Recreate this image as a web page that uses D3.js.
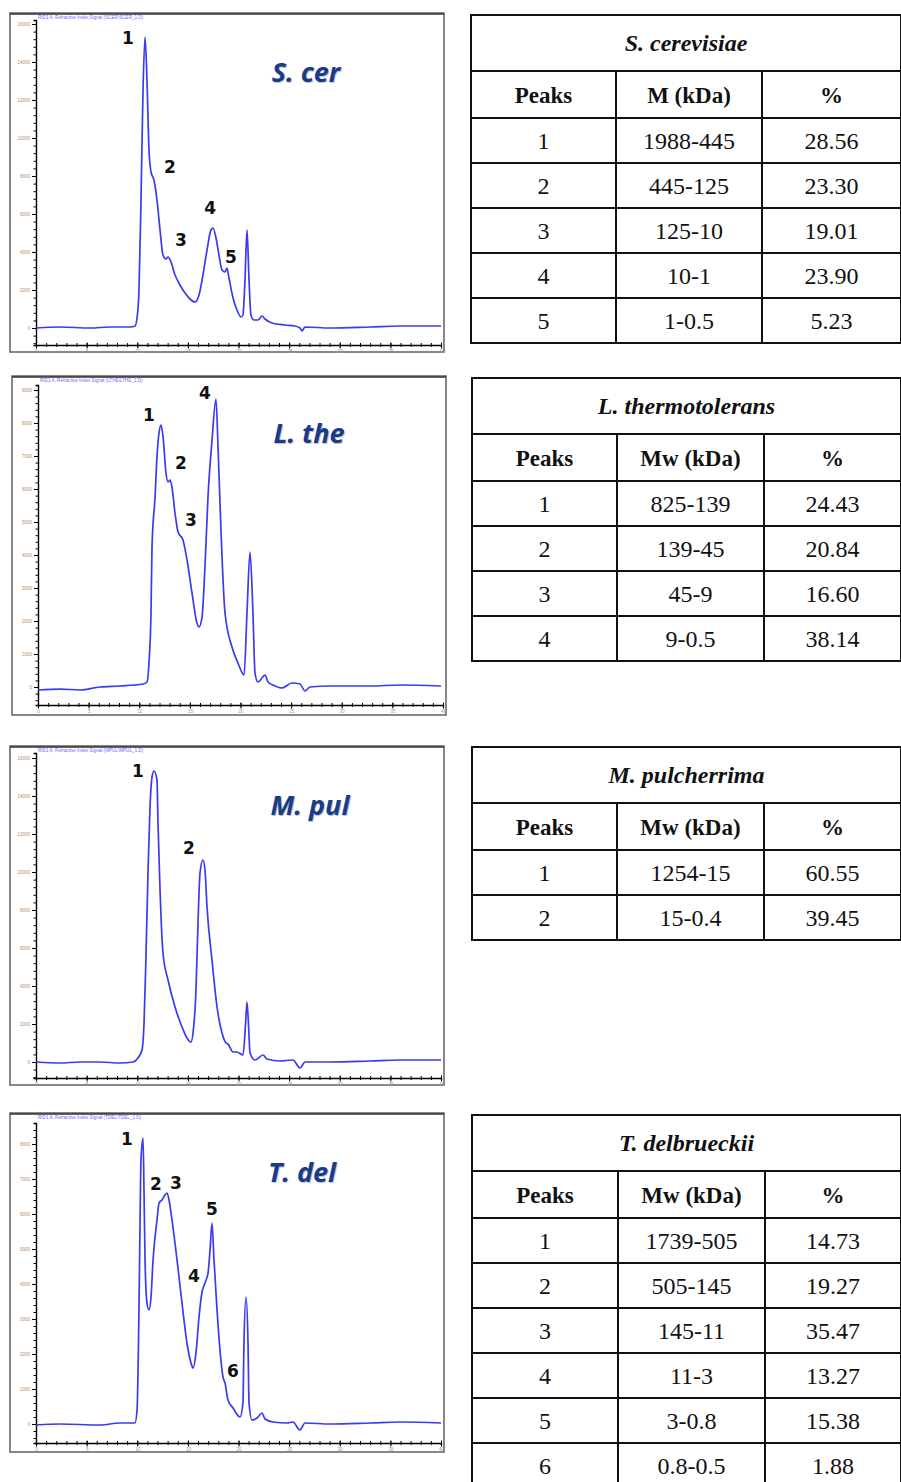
<!DOCTYPE html>
<meta charset="utf-8">
<script src="https://d3js.org/d3.v7.min.js"></script>
<style>
  body { margin: 0; background: #fff; }
  svg { display: block; }
  .tbl text { font-family: "Liberation Serif", "Times New Roman", "DejaVu Serif", serif; }
</style>
<div id="my_dataviz"></div>
<script>

// ---- chromatograms: retention time (min) and RI signal ----
var scerTime = [0, 2.37, 5.33, 7.31, 9.28, 9.78, 9.98, 10.17, 10.37, 10.57, 10.77, 10.96, 11.16, 11.36, 11.65, 11.95, 12.25, 12.54, 12.84, 13.04, 13.33, 13.73, 14.22, 14.72, 15.21, 15.70, 16.10, 16.49, 16.89, 17.28, 17.48, 17.78, 18.07, 18.37, 18.67, 18.86, 19.06, 19.46, 19.85, 20.25, 20.44, 20.64, 20.84, 21.04, 21.23, 21.53, 21.93, 22.32, 22.62, 23.31, 24.59, 25.58, 26.07, 26.27, 26.57, 29.04, 32.99, 35.95, 40];
var scerSignal = [0, 53, 0, 53, 53, 105, 526, 2000, 6737, 12526, 15316, 13053, 9368, 8211, 7789, 6737, 5158, 3842, 3632, 3737, 3474, 2789, 2263, 1842, 1526, 1368, 1737, 2789, 4105, 5158, 5263, 4737, 3842, 3053, 2947, 3158, 2632, 1579, 947, 579, 684, 2526, 5158, 2526, 684, 421, 421, 632, 474, 263, 158, 105, 0, -158, 53, 0, 53, 105, 105];
var scerPeakNames = ["1", "2", "3", "4", "5"];
var scerPeakTime = [9.09, 13.23, 14.32, 17.19, 19.26];
var scerPeakSignal = [15263, 8474, 4632, 6316, 3737];

var ltheTime = [0, 2.17, 4.15, 6.12, 8.10, 10.37, 10.77, 10.96, 11.16, 11.26, 11.56, 11.75, 11.95, 12.15, 12.35, 12.64, 12.84, 13.04, 13.23, 13.53, 13.83, 14.32, 14.72, 15.21, 15.70, 15.90, 16.20, 16.49, 16.79, 17.19, 17.58, 17.78, 18.07, 18.47, 19.16, 19.75, 20.35, 20.64, 20.94, 21.23, 21.43, 21.73, 22.12, 22.42, 22.72, 23.21, 24.10, 25.09, 25.88, 26.37, 26.86, 28.84, 32.79, 35.75, 39.8];
var ltheSignal = [-91, -61, -91, 0, 30, 91, 152, 727, 2242, 4242, 5758, 6970, 7697, 7939, 7576, 6485, 6212, 6273, 6061, 5273, 4697, 4455, 3849, 2849, 1939, 1818, 2121, 3636, 5758, 7485, 8727, 7273, 4758, 2242, 1212, 727, 364, 2242, 4091, 2242, 424, 152, 273, 364, 152, 61, -30, 121, 91, -121, 0, 30, 30, 61, 30];
var lthePeakNames = ["1", "2", "3", "4"];
var lthePeakTime = [10.96, 14.12, 15.11, 16.49];
var lthePeakSignal = [8242, 6788, 5061, 8909];

var mpulTime = [0, 2.37, 4.35, 6.32, 8.30, 9.58, 10.07, 10.47, 10.67, 10.86, 11.06, 11.26, 11.46, 11.65, 11.95, 12.05, 12.25, 12.54, 13.04, 13.73, 14.42, 14.91, 15.31, 15.51, 15.80, 16.00, 16.20, 16.49, 16.69, 16.89, 17.38, 17.88, 18.37, 18.77, 18.96, 19.46, 19.85, 20.44, 20.69, 20.84, 20.99, 21.14, 21.63, 22.42, 22.81, 24.10, 25.38, 26.07, 26.57, 29.04, 32.99, 35.95, 40];
var mpulSignal = [0, -53, 0, 0, -53, 0, 211, 632, 2053, 5526, 9947, 13421, 15000, 15316, 14842, 12579, 9053, 5737, 4316, 2895, 1842, 1263, 1053, 1526, 3789, 7316, 9947, 10632, 10105, 8158, 5368, 2895, 1526, 1000, 947, 526, 526, 368, 1947, 3158, 1947, 474, 105, 368, 158, 53, 105, -316, 0, 0, 53, 105, 105];
var mpulPeakNames = ["1", "2"];
var mpulPeakTime = [10.07, 15.11];
var mpulPeakSignal = [15316, 11263];

var tdelTime = [0, 2.37, 6.32, 8.30, 9.78, 9.98, 10.17, 10.27, 10.37, 10.57, 10.67, 10.77, 10.96, 11.16, 11.36, 11.56, 11.95, 12.15, 12.44, 12.74, 12.94, 13.14, 13.43, 13.93, 14.42, 14.91, 15.31, 15.51, 15.80, 16.10, 16.40, 16.69, 16.99, 17.19, 17.38, 17.58, 17.88, 18.17, 18.47, 18.67, 18.96, 19.46, 20.15, 20.44, 20.54, 20.74, 20.94, 21.04, 21.33, 21.83, 22.32, 22.62, 23.41, 24.79, 25.38, 26.07, 26.57, 29.04, 32.99, 35.95, 40];
var tdelSignal = [-29, 0, -29, 29, 29, 400, 3257, 5629, 7543, 8171, 6600, 4686, 3457, 3257, 3629, 4686, 5829, 6314, 6400, 6543, 6600, 6400, 5829, 4686, 3457, 2314, 1743, 1600, 2029, 3057, 3771, 4029, 4314, 4971, 5743, 4686, 3257, 2114, 1343, 1171, 686, 457, 200, 600, 2314, 3629, 2314, 600, 114, 171, 314, 143, 57, 29, 57, -171, 29, 0, 29, 57, 29];
var tdelPeakNames = ["1", "2", "3", "4", "5", "6"];
var tdelPeakTime = [8.99, 11.85, 13.83, 15.60, 17.38, 19.46];
var tdelPeakSignal = [8143, 6857, 6886, 4229, 6143, 1514];

var timeTicks = [0, 5, 10, 15, 20, 25, 30, 35, 40];

// ---- molecular weight tables ----
var scerMw = ["1988-445", "445-125", "125-10", "10-1", "1-0.5"];
var scerPct = ["28.56", "23.30", "19.01", "23.90", "5.23"];
var ltheMw = ["825-139", "139-45", "45-9", "9-0.5"];
var lthePct = ["24.43", "20.84", "16.60", "38.14"];
var mpulMw = ["1254-15", "15-0.4"];
var mpulPct = ["60.55", "39.45"];
var tdelMw = ["1739-505", "505-145", "145-11", "11-3", "3-0.8", "0.8-0.5"];
var tdelPct = ["14.73", "19.27", "35.47", "13.27", "15.38", "1.88"];

var svg = d3.select("#my_dataviz")
  .append("svg")
    .attr("width", 901)
    .attr("height", 1482);

var panels = [
  {name: "S. cer", file: "RID1 A, Refractive Index Signal (SCER\\SCER_1.D)", time: scerTime, signal: scerSignal,
   peaks: scerPeakNames, pt: scerPeakTime, ps: scerPeakSignal,
   left: 10, top: 13, yTop: 7, xAxis: 332, yMin: -895, yMax: 16210, step: 2000, nameX: 306, nameY: 82},
  {name: "L. the", file: "RID1 A, Refractive Index Signal (LTHE\\LTHE_1.D)", time: ltheTime, signal: ltheSignal,
   peaks: lthePeakNames, pt: lthePeakTime, ps: lthePeakSignal,
   left: 12, top: 376, yTop: 9, xAxis: 329, yMin: -545, yMax: 9151, step: 1000, nameX: 309, nameY: 443},
  {name: "M. pul", file: "RID1 A, Refractive Index Signal (MPUL\\MPUL_1.D)", time: mpulTime, signal: mpulSignal,
   peaks: mpulPeakNames, pt: mpulPeakTime, ps: mpulPeakSignal,
   left: 10, top: 746, yTop: 7, xAxis: 332, yMin: -842, yMax: 16263, step: 2000, nameX: 310, nameY: 815},
  {name: "T. del", file: "RID1 A, Refractive Index Signal (TDEL\\TDEL_1.D)", time: tdelTime, signal: tdelSignal,
   peaks: tdelPeakNames, pt: tdelPeakTime, ps: tdelPeakSignal,
   left: 10, top: 1113, yTop: 10, xAxis: 330, yMin: -543, yMax: 8600, step: 1000, nameX: 302, nameY: 1182}
];

panels.forEach(function(p) {
  var g = svg.append("g");

  // frame of the pasted screenshot
  g.append("rect")
    .attr("x", p.left).attr("y", p.top)
    .attr("width", 434).attr("height", 339)
    .attr("fill", "#fff")
    .attr("stroke", "#6a6a6a")
    .attr("stroke-width", 1.6);
  g.append("line")
    .attr("x1", p.left).attr("x2", p.left + 434)
    .attr("y1", p.top + 1).attr("y2", p.top + 1)
    .attr("stroke", "#333").attr("stroke-width", 1.5);

  var x = d3.scaleLinear()
    .domain([0, 40])
    .range([p.left + 26, p.left + 431]);
  var y = d3.scaleLinear()
    .domain([p.yMin, p.yMax])
    .range([p.top + p.xAxis, p.top + p.yTop]);

  // y axis: minor then major ticks
  var minorStep = p.step / 5;
  var yMinor = d3.range(Math.ceil(p.yMin / minorStep) * minorStep, p.yMax, minorStep);
  var yMajor = d3.range(0, p.yMax, p.step);
  g.append("g")
    .attr("transform", "translate(" + x(0) + ",0)")
    .call(d3.axisLeft(y).tickValues(yMinor).tickSize(2.5).tickFormat(""))
    .call(function(a) { a.select(".domain").attr("stroke", "#000").attr("stroke-width", 1.4); });
  g.append("g")
    .attr("transform", "translate(" + x(0) + ",0)")
    .call(d3.axisLeft(y).tickValues(yMajor).tickSize(4).tickPadding(2).tickFormat(d3.format("d")))
    .call(function(a) {
      a.select(".domain").remove();
      a.selectAll("text").attr("font-size", 4.5).attr("fill", "#b58a66").attr("font-family", "Arial, sans-serif");
    });

  // x axis along the bottom
  var xMinor = d3.range(0, 40.01, 1);
  g.append("g")
    .attr("transform", "translate(0," + y(p.yMin) + ")")
    .call(d3.axisBottom(x).tickValues(xMinor).tickSize(2).tickFormat(""))
    .call(function(a) {
      a.select(".domain").attr("stroke", "#000").attr("stroke-width", 1.4);
      a.selectAll("line").attr("y1", -2);
    });
  g.append("g")
    .attr("transform", "translate(0," + y(p.yMin) + ")")
    .call(d3.axisBottom(x).tickValues(timeTicks).tickSize(3.5).tickPadding(1))
    .call(function(a) {
      a.select(".domain").remove();
      a.selectAll("line").attr("y1", -2.5);
      a.selectAll("text").attr("font-size", 4.5).attr("fill", "#999").attr("font-family", "Arial, sans-serif");
    });

  // tiny signal caption
  g.append("text")
    .attr("x", x(0) + 2).attr("y", p.top + 6)
    .attr("font-size", 4.6)
    .attr("font-family", "Arial, sans-serif")
    .attr("fill", "#6b6bff")
    .text(p.file);

  // trace
  var pts = p.time.map(function(t, i) { return [t, p.signal[i]]; });
  g.append("path")
    .datum(pts)
    .attr("fill", "none")
    .attr("stroke", "#3a3af0")
    .attr("stroke-width", 1.7)
    .attr("stroke-linejoin", "round")
    .attr("d", d3.line()
      .x(function(d) { return x(d[0]); })
      .y(function(d) { return y(d[1]); })
      .curve(d3.curveMonotoneX));

  // peak numbers
  g.selectAll(".peak")
    .data(p.peaks)
    .enter()
    .append("text")
      .attr("x", function(d, i) { return x(p.pt[i]); })
      .attr("y", function(d, i) { return y(p.ps[i]); })
      .attr("dy", "0.36em")
      .attr("text-anchor", "middle")
      .attr("font-family", "DejaVu Sans, sans-serif")
      .attr("font-weight", "bold")
      .attr("font-size", 17)
      .attr("fill", "#111")
      .text(function(d) { return d; });

  // species tag
  g.append("text")
    .attr("x", p.nameX + 1).attr("y", p.nameY + 1)
    .attr("text-anchor", "middle")
    .attr("font-family", "Open Sans, sans-serif")
    .attr("font-style", "italic").attr("font-weight", "bold")
    .attr("font-size", 27)
    .attr("fill", "#8a8a8a").attr("opacity", 0.5)
    .text(p.name);
  g.append("text")
    .attr("x", p.nameX).attr("y", p.nameY)
    .attr("text-anchor", "middle")
    .attr("font-family", "Open Sans, sans-serif")
    .attr("font-style", "italic").attr("font-weight", "bold")
    .attr("font-size", 27)
    .attr("fill", "#1a3a8c")
    .text(p.name);
});

// ---- tables ----
var tables = [
  {title: "S. cerevisiae", head: ["Peaks", "M (kDa)", "%"], mw: scerMw, pct: scerPct, top: 15, cols: [471, 616, 762, 901]},
  {title: "L. thermotolerans", head: ["Peaks", "Mw (kDa)", "%"], mw: ltheMw, pct: lthePct, top: 378, cols: [472, 617, 764, 901]},
  {title: "M. pulcherrima", head: ["Peaks", "Mw (kDa)", "%"], mw: mpulMw, pct: mpulPct, top: 747, cols: [472, 617, 764, 901]},
  {title: "T. delbrueckii", head: ["Peaks", "Mw (kDa)", "%"], mw: tdelMw, pct: tdelPct, top: 1115, cols: [472, 618, 765, 901]}
];

var titleH = 56, headH = 47, rowH = 45;

tables.forEach(function(tb) {
  var g = svg.append("g").attr("class", "tbl").attr("fill", "#111");
  var c = tb.cols;
  var n = tb.mw.length;
  var bottom = tb.top + titleH + headH + n * rowH;
  var lineStyle = function(s) { return s.attr("stroke", "#111").attr("stroke-width", 2); };

  g.append("rect")
    .attr("x", c[0]).attr("y", tb.top)
    .attr("width", c[3] - c[0]).attr("height", bottom - tb.top)
    .attr("fill", "none")
    .call(lineStyle);

  // horizontal rules
  var rules = [tb.top + titleH];
  for (var i = 0; i <= n; i++) rules.push(tb.top + titleH + headH + i * rowH);
  g.selectAll(".hr").data(rules).enter().append("line")
    .attr("x1", c[0]).attr("x2", c[3])
    .attr("y1", function(d) { return d; }).attr("y2", function(d) { return d; })
    .call(lineStyle);
  // column rules
  g.selectAll(".vr").data([c[1], c[2]]).enter().append("line")
    .attr("x1", function(d) { return d; }).attr("x2", function(d) { return d; })
    .attr("y1", tb.top + titleH).attr("y2", bottom)
    .call(lineStyle);

  var mid = [(c[0] + c[1]) / 2, (c[1] + c[2]) / 2, (c[2] + c[3]) / 2];

  g.append("text")
    .attr("x", (c[0] + c[3]) / 2).attr("y", tb.top + titleH / 2 + 8)
    .attr("text-anchor", "middle")
    .attr("font-weight", "bold").attr("font-style", "italic")
    .attr("font-size", 24)
    .text(tb.title);

  g.selectAll(".head").data(tb.head).enter().append("text")
    .attr("x", function(d, i) { return mid[i]; })
    .attr("y", tb.top + titleH + headH / 2 + 8)
    .attr("text-anchor", "middle")
    .attr("font-weight", "bold")
    .attr("font-size", 23)
    .text(function(d) { return d; });

  tb.mw.forEach(function(m, i) {
    var cy = tb.top + titleH + headH + i * rowH + rowH / 2 + 8;
    [String(i + 1), m, tb.pct[i]].forEach(function(v, j) {
      g.append("text")
        .attr("x", mid[j]).attr("y", cy)
        .attr("text-anchor", "middle")
        .attr("font-size", 24)
        .text(v);
    });
  });
});

</script>
